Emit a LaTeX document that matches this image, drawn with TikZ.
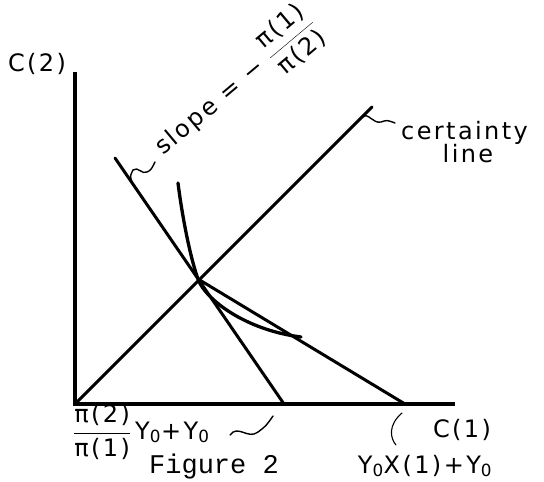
\documentclass[tikz,border=0pt]{standalone}
\usepackage{fontspec}
\setmainfont{DejaVu Sans}
\newfontfamily\handfont[LetterSpace=10]{DejaVu Sans}
\newfontfamily\typew{Liberation Mono}
\begin{document}
\begin{tikzpicture}[x=1pt,y=-1pt,
  axis/.style={line width=3.6pt},
  mainline/.style={line width=3pt, line cap=round},
  squiggle/.style={line width=1.4pt, line cap=round},
  hand/.style={font=\handfont\fontsize{24}{26}\selectfont, inner sep=0pt}]
\useasboundingbox (0,0) rectangle (544,482);
% key points
\coordinate (O) at (75,404);
\coordinate (ytop) at (75,72);
\coordinate (xend) at (455,404);
\coordinate (steepTop) at (115,158);
\coordinate (steepBot) at (284,404);
\coordinate (E) at (198,279);
\coordinate (budBot) at (405,404);
\coordinate (certTop) at (372,107);
\coordinate (icTop) at (178,183);
\coordinate (icEnd) at (301,337);
% axes and lines
\draw[axis] (ytop) -- (O) -- (xend);
\draw[mainline] (O) -- (certTop);
\draw[mainline] (steepTop) -- (steepBot);
\draw[mainline] (E) -- (budBot);
\draw[mainline, line width=3.3pt] (icTop) .. controls (182,215) and (190,257) .. (E)
   .. controls (205,299) and (245,330) .. (icEnd);
% labels
\node[hand] (c2) at (37,64) {C(2)};
\node[hand, rotate=40, anchor=base west] (slope) at (163,156)
  {slope = − $\displaystyle\frac{\mbox{π(1)}}{\mbox{π(2)}}$};
\coordinate (slopeFoot) at (132,182);
\coordinate (slopeEnd) at (155,162);
\draw[squiggle] (slopeFoot) .. controls (130,176) .. (133,170)
   .. controls (138,166) and (142,175) .. (147,172) .. controls (151,170) .. (slopeEnd);
\node[hand, anchor=base west] (cert) at (401,139) {certainty};
\node[hand] (line) at (468,154) {line};
\coordinate (certFoot) at (363,117);
\coordinate (certEnd) at (395,123);
\draw[squiggle] (certFoot) .. controls (368,112) and (373,124) .. (381,122)
   .. controls (387,120) .. (certEnd);
\node[hand, anchor=base west] (lowlbl) at (73,439)
  {$\displaystyle\frac{\mbox{π(2)}}{\mbox{π(1)}}$\,Y\textsubscript{0}+Y\textsubscript{0}};
\coordinate (lowStart) at (230,435);
\coordinate (lowEnd) at (273,416);
\draw[squiggle] (lowStart)
   .. controls (238,424) and (248,440) .. (258,432) .. controls (266,426) .. (lowEnd);
\node[hand] (c1) at (462,430) {C(1)};
\node[hand] (yx) at (425,466) {Y\textsubscript{0}X(1)+Y\textsubscript{0}};
\coordinate (markTop) at (402,413);
\coordinate (markBot) at (396,445);
\draw[squiggle, line width=1.1pt] (markTop) .. controls (388,425) and (390,438) .. (markBot);
\node[font=\typew\fontsize{27}{29}\selectfont, inner sep=0pt] (fig) at (214,467) {Figure 2};
\end{tikzpicture}
\end{document}
